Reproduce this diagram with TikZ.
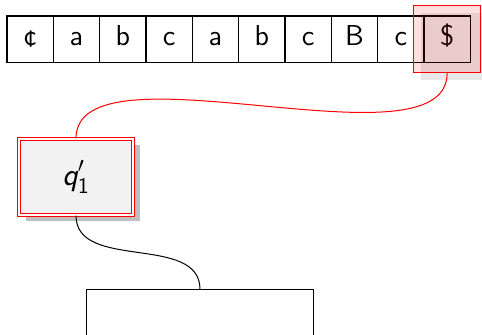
\documentclass[tikz,border=0pt]{standalone}
\usepackage{fontspec}
\usepackage{amsmath}
\usetikzlibrary{fit,shadows}
\definecolor{qfill}{RGB}{242,242,242}
\tikzset{
  tapecell/.style={draw=black, line width=0.6pt, minimum width=23.17pt, minimum height=23.17pt, inner sep=0pt, outer sep=0pt,
    text height=0.8em, text depth=0.2em},
  hlbox/.style={draw=red, line width=0.5pt, fill=red, fill opacity=0.12, inner sep=5.15pt,
    drop shadow={shadow xshift=3.5pt, shadow yshift=-3.5pt, fill=black, opacity=0.09}},
  statebox/.style={draw=red, double=white, line width=0.55pt, double distance=1.1pt, fill=qfill,
    minimum width=57pt, minimum height=38pt, inner sep=0pt, font=\fontsize{16}{19}\selectfont\sffamily,
    drop shadow={shadow xshift=3.5pt, shadow yshift=-3pt, fill=black, opacity=0.25}},
  lowbox/.style={draw=black, line width=0.5pt, minimum width=113.5pt, minimum height=40pt, inner sep=0pt},
  redlink/.style={draw=red, line width=0.5pt},
  blacklink/.style={draw=black, line width=0.5pt}
}
\begin{document}
\begin{tikzpicture}[x=0.5pt, y=-0.5pt, font=\fontsize{14.4}{17}\selectfont\sffamily]
\useasboundingbox (0,0) rectangle (482,334);
\node[tapecell] (c1) at (30.17,39.15) {¢};
\node[tapecell] (c2) at (76.50,39.15) {a};
\node[tapecell] (c3) at (122.83,39.15) {b};
\node[tapecell] (c4) at (169.16,39.15) {c};
\node[tapecell] (c5) at (215.49,39.15) {a};
\node[tapecell] (c6) at (261.82,39.15) {b};
\node[tapecell] (c7) at (308.15,39.15) {c};
\node[tapecell] (c8) at (354.48,39.15) {B};
\node[tapecell] (c9) at (400.81,39.15) {c};
\node[tapecell] (c10) at (447.14,39.15) {\$};
\node[hlbox, fit=(c10)] (hl) {};
\node[statebox] (q) at (76,177) {$\text{\sffamily\itshape q}'_{\text{\sffamily 1}}$};
\node[lowbox, anchor=north] (low) at (200,289.3) {};
\draw[redlink] (hl.south) .. controls +(0,100) and +(0,-100) .. (q.north);
\draw[blacklink] (q.south) .. controls +(0,56) and +(0,-56) .. (low.north);
\end{tikzpicture}
\end{document}
